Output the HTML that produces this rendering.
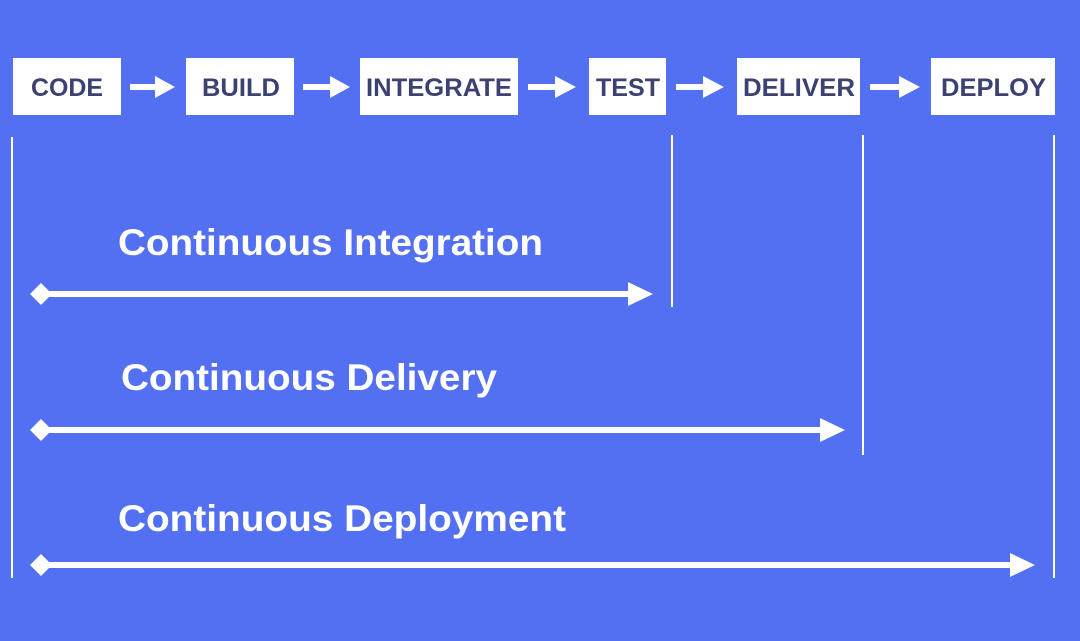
<!DOCTYPE html>
<html><head><style>
html,body{margin:0;padding:0;background:#5470F2;}
svg{display:block}
</style></head><body>
<svg width="1080" height="641" viewBox="0 0 1080 641" xmlns="http://www.w3.org/2000/svg">
<rect width="1080" height="641" fill="#5470F2"/>
<g fill="#fff">
<rect x="13" y="58" width="108" height="57"/>
<rect x="186" y="58" width="108" height="57"/>
<rect x="360" y="58" width="158" height="57"/>
<rect x="589" y="58" width="77" height="57"/>
<rect x="737" y="58" width="123" height="57"/>
<rect x="931" y="58" width="124" height="57"/>
</g>
<g font-family="Liberation Sans, sans-serif" font-weight="bold" font-size="25" fill="#3b4170" lengthAdjust="spacingAndGlyphs">
<text x="31" y="96" textLength="72" lengthAdjust="spacingAndGlyphs">CODE</text>
<text x="202" y="96" textLength="78" lengthAdjust="spacingAndGlyphs">BUILD</text>
<text x="366" y="96" textLength="146" lengthAdjust="spacingAndGlyphs">INTEGRATE</text>
<text x="596" y="96" textLength="64" lengthAdjust="spacingAndGlyphs">TEST</text>
<text x="743" y="96" textLength="112" lengthAdjust="spacingAndGlyphs">DELIVER</text>
<text x="941" y="96" textLength="105" lengthAdjust="spacingAndGlyphs">DEPLOY</text>
</g>
<g fill="#fff">
<rect x="130" y="84" width="28" height="6"/><polygon points="155,76 175,87 155,98"/>
<rect x="303" y="84" width="30" height="6"/><polygon points="330,76 350,87 330,98"/>
<rect x="528" y="84" width="30" height="6"/><polygon points="555,76 576,87 555,98"/>
<rect x="676" y="84" width="30" height="6"/><polygon points="703,76 724,87 703,98"/>
<rect x="870" y="84" width="32" height="6"/><polygon points="899,76 920,87 899,98"/>
</g>
<g stroke="#fff" stroke-width="2">
<line x1="12" y1="137" x2="12" y2="578"/>
<line x1="672" y1="135" x2="672" y2="307"/>
<line x1="863" y1="135" x2="863" y2="455"/>
<line x1="1054" y1="135" x2="1054" y2="578"/>
</g>
<g fill="#fff">
<polygon points="30,294 41,283 52,294 41,305"/><rect x="40" y="291" width="592" height="6"/><polygon points="628,282 653,294 628,306"/>
<polygon points="30,430 41,419 52,430 41,441"/><rect x="40" y="427" width="784" height="6"/><polygon points="820,418 845,430 820,442"/>
<polygon points="30,565 41,554 52,565 41,576"/><rect x="40" y="562" width="974" height="6"/><polygon points="1010,553 1035,565 1010,577"/>
</g>
<g font-family="Liberation Sans, sans-serif" font-weight="bold" font-size="37" fill="#fff">
<text x="118" y="255" textLength="425" lengthAdjust="spacingAndGlyphs">Continuous Integration</text>
<text x="121" y="390" textLength="376" lengthAdjust="spacingAndGlyphs">Continuous Delivery</text>
<text x="118" y="531" textLength="448" lengthAdjust="spacingAndGlyphs">Continuous Deployment</text>
</g>
</svg>
</body></html>
